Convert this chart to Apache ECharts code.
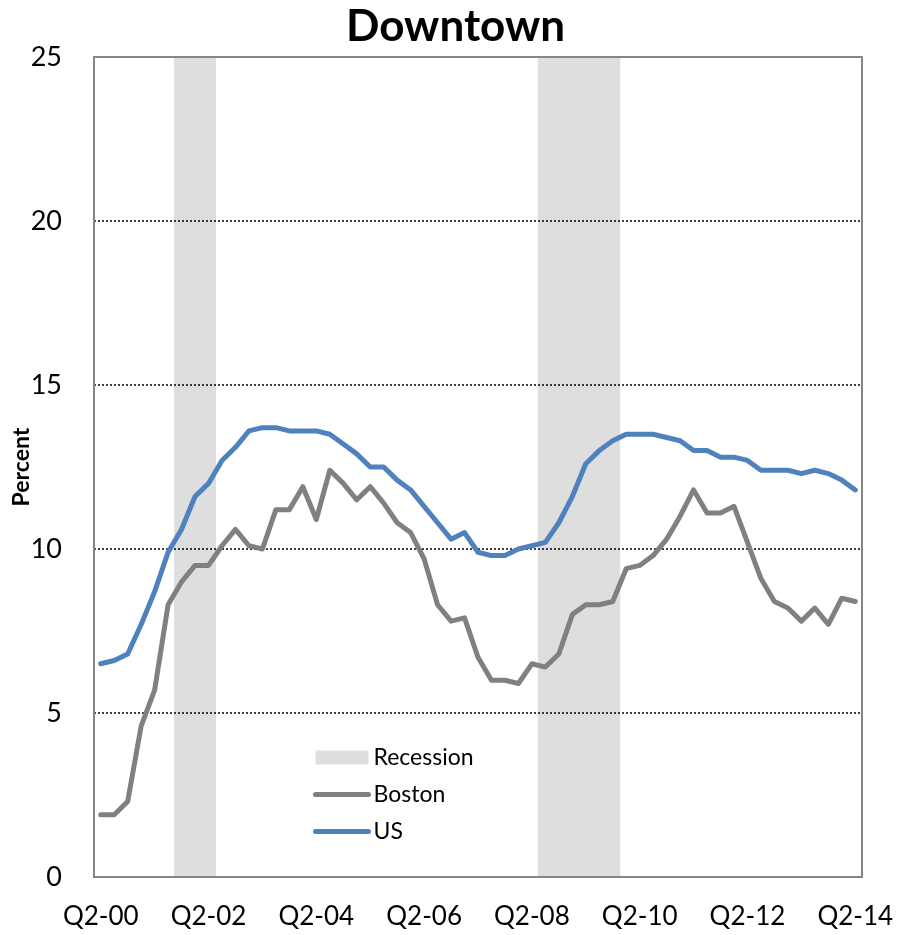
<!DOCTYPE html>
<html>
<head>
<meta charset="utf-8">
<script src="https://cdn.jsdelivr.net/npm/echarts@6/dist/echarts.min.js"></script>
<style>
  html, body { margin: 0; padding: 0; background: #fff; }
  #chart { width: 898px; height: 935px; }
</style>
</head>
<body>
<div id="chart"></div>
<script>
// quarterly categories, Q2-00 .. Q2-14
let quarters = [
    'Q2-00','Q3-00','Q4-00','Q1-01','Q2-01','Q3-01','Q4-01','Q1-02',
    'Q2-02','Q3-02','Q4-02','Q1-03','Q2-03','Q3-03','Q4-03','Q1-04',
    'Q2-04','Q3-04','Q4-04','Q1-05','Q2-05','Q3-05','Q4-05','Q1-06',
    'Q2-06','Q3-06','Q4-06','Q1-07','Q2-07','Q3-07','Q4-07','Q1-08',
    'Q2-08','Q3-08','Q4-08','Q1-09','Q2-09','Q3-09','Q4-09','Q1-10',
    'Q2-10','Q3-10','Q4-10','Q1-11','Q2-11','Q3-11','Q4-11','Q1-12',
    'Q2-12','Q3-12','Q4-12','Q1-13','Q2-13','Q3-13','Q4-13','Q1-14',
    'Q2-14'
];

let boston = [
    1.9, 1.9, 2.3, 4.6, 5.7, 8.3, 9.0, 9.5, 9.5, 10.1, 10.6, 10.1, 10.0, 11.2, 11.2,
    11.9, 10.9, 12.4, 12.0, 11.5, 11.9, 11.4, 10.8, 10.5, 9.7, 8.3, 7.8, 7.9,
    6.7, 6.0, 6.0, 5.9, 6.5, 6.4, 6.8, 8.0, 8.3, 8.3, 8.4, 9.4, 9.5, 9.8,
    10.3, 11.0, 11.8, 11.1, 11.1, 11.3, 10.2, 9.1, 8.4, 8.2, 7.8, 8.2, 7.7,
    8.5, 8.4
];

let us = [
    6.5, 6.6, 6.8, 7.7, 8.7, 9.9, 10.6, 11.6, 12.0, 12.7, 13.1, 13.6, 13.7, 13.7, 13.6,
    13.6, 13.6, 13.5, 13.2, 12.9, 12.5, 12.5, 12.1, 11.8, 11.3, 10.8, 10.3, 10.5,
    9.9, 9.8, 9.8, 10.0, 10.1, 10.2, 10.8, 11.6, 12.6, 13.0, 13.3, 13.5, 13.5, 13.5,
    13.4, 13.3, 13.0, 13.0, 12.8, 12.8, 12.7, 12.4, 12.4, 12.4, 12.3, 12.4, 12.3,
    12.1, 11.8
];

// recession shading (full height of the axis)
let recession = [
    null, null, null, null, null, null, 25, 25, 25, null, null, null, null, null, null,
    null, null, null, null, null, null, null, null, null, null, null, null, null,
    null, null, null, null, null, 25, 25, 25, 25, 25, 25, null, null, null,
    null, null, null, null, null, null, null, null, null, null, null, null, null,
    null, null
];

let yTicks = [0, 5, 10, 15, 20, 25];

let myChart = echarts.init(document.getElementById('chart'));

let font = 'Lato';
let frame = '#868686';

// line legend entries: keep the line, hide the marker
let lineLegend = function (name, color) {
    return {
        name: name,
        itemStyle: { color: 'transparent', borderWidth: 0, opacity: 0 },
        lineStyle: { color: color, width: 5, cap: 'round' }
    };
};

let option = {
    animation: false,
    backgroundColor: '#fff',
    title: {
        text: 'Downtown',
        left: 341,
        top: 0,
        textStyle: { fontFamily: font, fontSize: 44, fontWeight: 'bold', color: '#000' }
    },
    legend: {
        orient: 'vertical',
        left: 313,
        top: 746,
        padding: 0,
        itemWidth: 53,
        itemHeight: 14,
        itemGap: 14,
        textStyle: { fontFamily: font, fontSize: 23, color: '#000' },
        data: [
            { name: 'Recession', icon: 'rect' },
            lineLegend('Boston', '#808080'),
            lineLegend('US', '#4f81bd')
        ]
    },
    grid: {
        left: 94,
        right: 36,
        top: 57,
        bottom: 58,
        outerBoundsMode: 'none',
        show: true,
        borderColor: frame,
        borderWidth: 2,
        backgroundColor: 'transparent'
    },
    xAxis: {
        type: 'category',
        data: quarters,
        boundaryGap: true,
        axisLine: { show: true, lineStyle: { color: frame, width: 2 } },
        axisTick: { show: false },
        axisLabel: {
            interval: 7,
            margin: 27,
            fontFamily: font,
            fontSize: 26,
            color: '#000'
        },
        splitLine: { show: false }
    },
    yAxis: {
        type: 'value',
        min: yTicks[0],
        max: yTicks[yTicks.length - 1],
        interval: 5,
        name: 'Percent',
        nameLocation: 'middle',
        nameGap: 61,
        nameMoveOverlap: false,
        nameTextStyle: { fontFamily: font, fontSize: 23, fontWeight: 'bold', color: '#000' },
        axisLine: { show: true, lineStyle: { color: frame, width: 2 } },
        axisTick: { show: false },
        axisLabel: {
            margin: 32,
            fontFamily: font,
            fontSize: 27,
            color: '#000'
        },
        splitLine: {
            show: true,
            showMinLine: false,
            showMaxLine: false,
            lineStyle: { color: '#000', type: [2, 2], width: 1.5 }
        }
    },
    series: [
        {
            name: 'Recession',
            type: 'bar',
            data: recession,
            barWidth: 15,
            barGap: '-100%',
            z: -1,
            itemStyle: { color: '#dedede' },
            silent: true
        },
        {
            name: 'Boston',
            type: 'line',
            data: boston,
            symbol: 'none',
            z: 3,
            lineStyle: { color: '#808080', width: 5, cap: 'round', join: 'round' },
            itemStyle: { color: '#808080' }
        },
        {
            name: 'US',
            type: 'line',
            data: us,
            symbol: 'none',
            z: 4,
            lineStyle: { color: '#4f81bd', width: 5, cap: 'round', join: 'round' },
            itemStyle: { color: '#4f81bd' }
        }
    ]
};

myChart.setOption(option);
</script>
</body>
</html>
